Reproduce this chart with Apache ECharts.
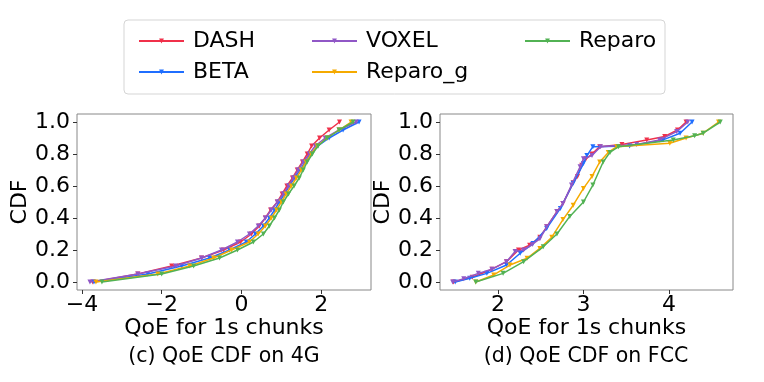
<!DOCTYPE html>
<html><head><meta charset="utf-8">
<script src="https://cdn.jsdelivr.net/npm/echarts@6/dist/echarts.min.js"></script>
<style>html,body{margin:0;padding:0;background:#fff}#c{width:764px;height:382px}</style>
</head><body><div id="c"></div>
<script>
// ---- data ----
const seriesNames = ['DASH', 'BETA', 'VOXEL', 'Reparo_g', 'Reparo'];
const seriesColors = ['#f0304a', '#1f6eff', '#9057c6', '#f5aa00', '#52b254'];

// 4G plot: QoE value at each CDF level
const cdfLevels4G = [0, 0.05, 0.1, 0.15, 0.2, 0.25, 0.3, 0.35, 0.4, 0.45, 0.5, 0.55, 0.6, 0.65, 0.7, 0.75, 0.8, 0.85, 0.9, 0.95, 1.0];
const dash4G    = [-3.73, -2.6, -1.75, -1.0, -0.45, -0.02, 0.25, 0.45, 0.6, 0.73, 0.9, 1.02, 1.14, 1.28, 1.4, 1.53, 1.65, 1.76, 1.96, 2.2, 2.46];
const beta4G    = [-3.7, -2.35, -1.5, -0.8, -0.3, 0.12, 0.35, 0.55, 0.7, 0.83, 0.95, 1.08, 1.2, 1.33, 1.47, 1.6, 1.73, 1.92, 2.2, 2.55, 2.95];
const voxel4G   = [-3.8, -2.6, -1.65, -1.0, -0.5, -0.1, 0.2, 0.42, 0.6, 0.75, 0.9, 1.05, 1.18, 1.3, 1.42, 1.55, 1.7, 1.85, 2.1, 2.45, 2.88];
const reparoG4G = [-3.65, -2.1, -1.3, -0.7, -0.25, 0.2, 0.42, 0.6, 0.75, 0.88, 1.0, 1.12, 1.25, 1.38, 1.5, 1.62, 1.75, 1.9, 2.15, 2.45, 2.75];
const reparo4G  = [-3.5, -2.0, -1.2, -0.55, -0.1, 0.3, 0.55, 0.7, 0.83, 0.95, 1.05, 1.18, 1.32, 1.45, 1.55, 1.65, 1.78, 1.92, 2.15, 2.45, 2.8];

// FCC plot: [QoE, CDF] pairs
const dashFCC    = [[1.48,0],[1.7,0.03],[1.93,0.08],[2.1,0.127],[2.24,0.2],[2.37,0.23],[2.49,0.28],[2.57,0.345],[2.69,0.44],[2.76,0.49],[2.88,0.62],[2.93,0.66],[2.98,0.73],[3.03,0.77],[3.1,0.8],[3.19,0.846],[3.45,0.86],[3.74,0.888],[3.95,0.91],[4.1,0.95],[4.2,1.0]];
const betaFCC    = [[1.5,0],[1.67,0.023],[1.87,0.054],[2.1,0.106],[2.26,0.18],[2.41,0.24],[2.57,0.335],[2.73,0.46],[2.88,0.617],[3.0,0.74],[3.04,0.79],[3.11,0.846],[3.54,0.85],[3.93,0.888],[4.13,0.93],[4.27,1.0]];
const voxelFCC   = [[1.47,0],[1.6,0.02],[1.77,0.054],[1.93,0.08],[2.1,0.127],[2.2,0.19],[2.3,0.2],[2.4,0.235],[2.49,0.27],[2.57,0.345],[2.69,0.44],[2.76,0.49],[2.86,0.606],[2.96,0.72],[3.0,0.77],[3.1,0.79],[3.2,0.846],[3.62,0.86],[3.89,0.888],[4.09,0.94],[4.22,1.0]];
const reparoGFCC = [[1.74,0],[1.95,0.044],[2.14,0.106],[2.34,0.148],[2.49,0.21],[2.63,0.28],[2.76,0.39],[2.88,0.48],[3.0,0.585],[3.1,0.66],[3.19,0.75],[3.29,0.81],[3.39,0.846],[4.01,0.867],[4.2,0.9],[4.4,0.93],[4.58,1.0]];
const reparoFCC  = [[1.74,0],[2.06,0.054],[2.3,0.127],[2.53,0.22],[2.69,0.3],[2.84,0.41],[3.0,0.5],[3.11,0.606],[3.23,0.75],[3.31,0.81],[3.41,0.846],[4.05,0.888],[4.3,0.914],[4.4,0.93],[4.6,1.0]];

// ticks
const xTicks4G  = [-4, -2, 0, 2];
const xTicksFCC = [2, 3, 4];
const yTicks    = [0, 0.2, 0.4, 0.6, 0.8, 1.0];

const titles = ['(c) QoE CDF on 4G', '(d) QoE CDF on FCC'];
const xName = 'QoE for 1s chunks';
const yName = 'CDF';

// ---- chart ----
const FONT = 'DejaVu Sans';
const FS = 22;
const data4G = [dash4G, beta4G, voxel4G, reparoG4G, reparo4G].map(xs => xs.map((x, i) => [x, cdfLevels4G[i]]));
const dataFCC = [dashFCC, betaFCC, voxelFCC, reparoGFCC, reparoFCC];

function mkX(idx, min, max, ticks) {
  return {
    type: 'value', gridIndex: idx, min: min, max: max, position: 'bottom',
    name: xName, nameLocation: 'middle', nameGap: 22,
    nameTextStyle: {fontFamily: FONT, fontSize: FS, color: '#000'},
    axisLine: {show: false, onZero: false},
    axisTick: {show: true, customValues: ticks, length: 4, lineStyle: {color: '#333'}},
    axisLabel: {customValues: ticks, margin: 4, fontFamily: FONT, fontSize: FS, color: '#000',
      formatter: v => String(v).replace('-', '\u2212')},
    splitLine: {show: false}
  };
}
function mkY(idx, gap) {
  return {
    type: 'value', gridIndex: idx, min: -0.05, max: 1.05, position: 'left',
    name: yName, nameLocation: 'middle', nameGap: gap,
    nameTextStyle: {fontFamily: FONT, fontSize: FS, color: '#000'},
    axisLine: {show: false, onZero: false},
    axisTick: {show: true, customValues: yTicks, length: 4, lineStyle: {color: '#333'}},
    axisLabel: {customValues: yTicks, margin: 7, fontFamily: FONT, fontSize: FS, color: '#000',
      formatter: v => v.toFixed(1)},
    splitLine: {show: false}
  };
}

const series = [];
[data4G, dataFCC].forEach((set, g) => {
  set.forEach((d, i) => {
    series.push({
      name: seriesNames[i], type: 'line', xAxisIndex: g, yAxisIndex: g,
      data: d, color: seriesColors[i],
      lineStyle: {width: 1.5}, symbol: 'triangle', symbolRotate: 180, symbolSize: 5,
      showSymbol: true, animation: false, z: 2 + i
    });
  });
});

const legendBase = {
  orient: 'vertical', itemWidth: 45, itemHeight: 6, itemGap: 7,
  textStyle: {fontFamily: FONT, fontSize: FS, color: '#000', lineHeight: 24, padding: [0, 0, 0, 4]},
  top: 24
};

const chart = echarts.init(document.getElementById('c'), null, {renderer: 'canvas'});
chart.setOption({
  animation: false,
  backgroundColor: '#fff',
  grid: [
    {left: 77, top: 114, width: 294, height: 176, show: true, borderColor: '#888', borderWidth: 1, backgroundColor: 'transparent'},
    {left: 440, top: 114, width: 293, height: 176, show: true, borderColor: '#888', borderWidth: 1, backgroundColor: 'transparent'}
  ],
  xAxis: [mkX(0, -4.125, 3.25, xTicks4G), mkX(1, 1.322, 4.749, xTicksFCC)],
  yAxis: [mkY(0, 24), mkY(1, 32)],
  legend: [
    Object.assign({}, legendBase, {left: 133, data: ['DASH', 'BETA']}),
    Object.assign({}, legendBase, {left: 306, data: ['VOXEL', 'Reparo_g']}),
    Object.assign({}, legendBase, {left: 519, data: ['Reparo']})
  ],
  graphic: [
    {type: 'rect', shape: {x: 124, y: 20, width: 541, height: 74, r: 4}, style: {fill: 'none', stroke: '#d5d5d5', lineWidth: 1}, z: -1},
    {type: 'text', style: {text: titles[0], x: 224, y: 357, textAlign: 'center', textVerticalAlign: 'middle', font: '20.5px "' + FONT + '"', fill: '#000'}},
    {type: 'text', style: {text: titles[1], x: 586, y: 357, textAlign: 'center', textVerticalAlign: 'middle', font: '20.5px "' + FONT + '"', fill: '#000'}}
  ],
  series: series
});
</script>
</body></html>
